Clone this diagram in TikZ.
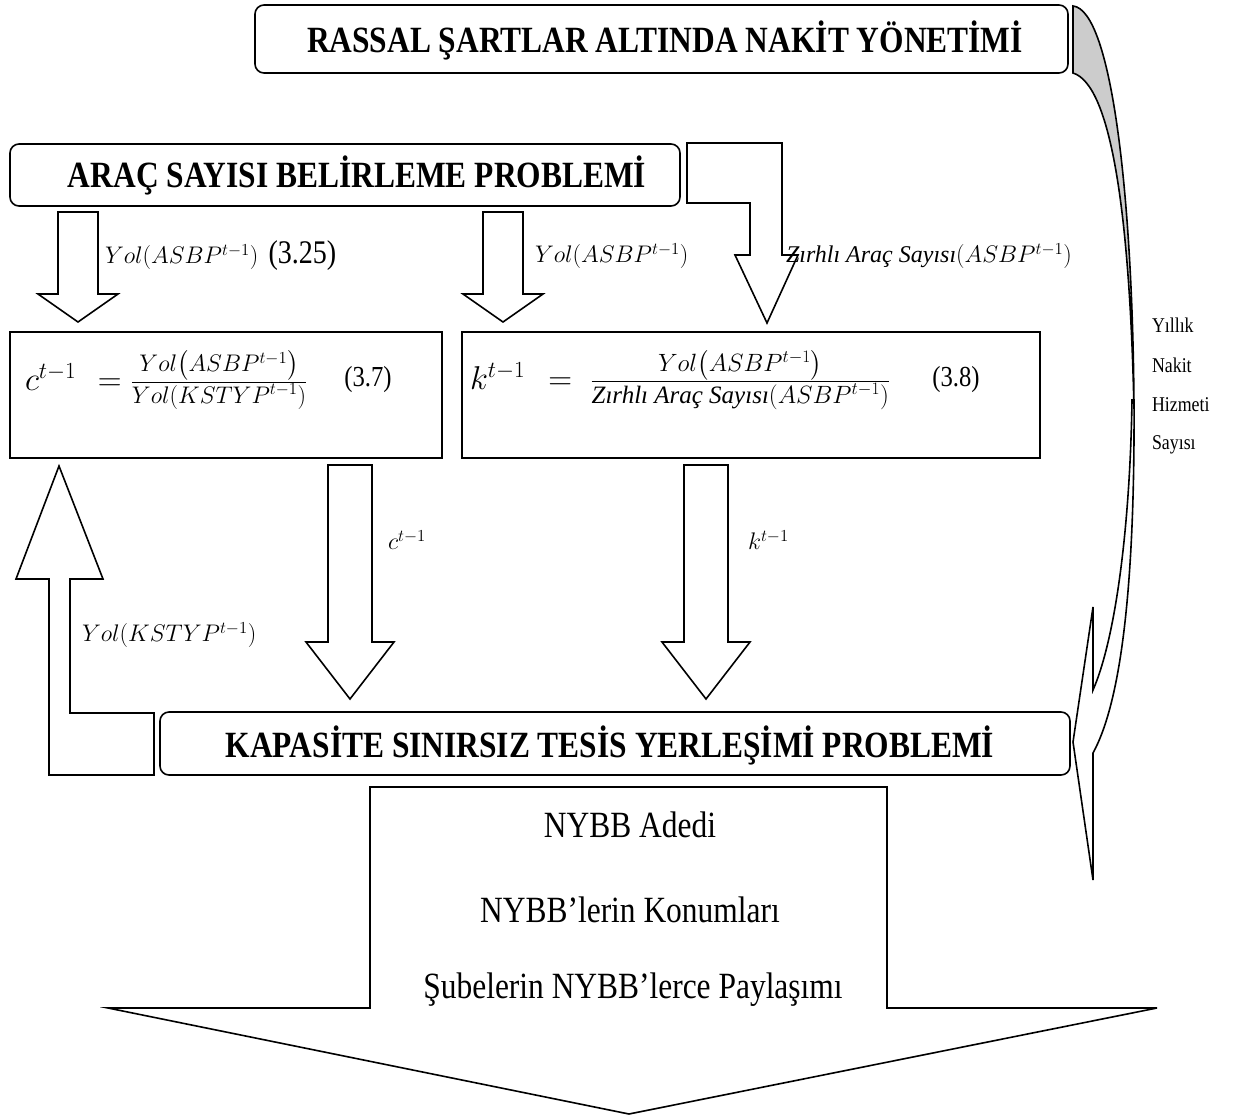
\RequirePackage{fix-cm}
\documentclass[tikz,border=0pt]{standalone}
\usepackage{amsmath}
\usepackage[no-math]{fontspec}
\setmainfont{Liberation Serif}[FakeStretch=0.85]
\newfontfamily\plainserif{Liberation Serif}

% sizes
\newcommand\titlesz{\fontsize{37}{40}\selectfont}
\newcommand\bodysz{\fontsize{37}{40}\selectfont}
\newcommand\sidesz{\fontsize{21}{24}\selectfont}
\newcommand\lblsz{\fontsize{24}{27}\selectfont}
\newcommand\fracsz{\fontsize{24}{27}\selectfont}
\newcommand\fracszb{\fontsize{25}{28}\selectfont}
\newcommand\eqsz{\fontsize{33}{36}\selectfont}
% Turkish words set in italic inside formulas
\newcommand\trit[1]{\text{\plainserif\itshape #1}}

% hollow down block arrow: centre x, top y, head y, tip y, half shaft, half head
\newcommand\blockdown[6]{%
  \draw[blockarrow] (#1-#5,#2) -- (#1+#5,#2) -- (#1+#5,#3) -- (#1+#6,#3)
    -- (#1,#4) -- (#1-#6,#3) -- (#1-#5,#3) -- cycle;}

\tikzset{
  every node/.style={inner sep=0pt, outer sep=0pt},
  titlebox/.style={draw, line width=1.6pt, rounded corners=9pt},
  formbox/.style={draw, line width=1.6pt},
  blockarrow/.style={draw, line width=1.6pt, fill=white, line join=miter},
  ribbon/.style={draw, line width=1.6pt, line join=miter},
  titletext/.style={font=\titlesz\bfseries},
}

\begin{document}
\begin{tikzpicture}[x=1pt,y=-1pt]
\useasboundingbox (0,0) rectangle (1248,1117);

% ---------- boxes ----------
\node[titlebox, minimum width=813, minimum height=68] (rassal) at (661.5,39) {};
\node[titletext] (rassaltxt) at (665,40) {RASSAL ŞARTLAR ALTINDA NAKİT YÖNETİMİ};

\node[titlebox, minimum width=670, minimum height=62] (arac) at (345,175) {};
\node[titletext] (aractxt) at (357,175) {ARAÇ SAYISI BELİRLEME PROBLEMİ};

\node[formbox, minimum width=432, minimum height=126] (cbox) at (226,395) {};
\node[formbox, minimum width=578, minimum height=126] (kbox) at (751,395) {};

\node[titlebox, minimum width=910, minimum height=63] (tesis) at (615,743.5) {};
\node[titletext] (tesistxt) at (610,745) {KAPASİTE SINIRSIZ TESİS YERLEŞİMİ PROBLEMİ};

% ---------- formulas ----------
\node[anchor=west, font=\eqsz] (ceq) at (25,380)
  {$c^{t-1}\ \,=\frac{\mbox{\fracsz$Yol\bigl(ASBP^{t-1}\bigr)$}}{\mbox{\fracsz$Yol(KSTYP^{t-1})$}}$};
\node[font=\fontsize{29}{32}\selectfont] (cnum) at (368,380) {(3.7)};

\node[anchor=west, font=\eqsz] (keq) at (470,380)
  {$k^{t-1}\ \ =\;\frac{\mbox{\fracszb$Yol\bigl(ASBP^{t-1}\bigr)$}}{\mbox{\fracszb$\trit{Zırhlı Araç Sayısı}(ASBP^{t-1})$}}$};
\node[font=\fontsize{29}{32}\selectfont] (knum) at (956,380) {(3.8)};

% ---------- down arrows under the first problem ----------
\blockdown{78}{212}{294}{322}{20}{40}
\blockdown{503}{212}{294}{322}{20}{40}
\node[anchor=west, font=\lblsz] (lbla) at (105,256)
  {$Yol(ASBP^{t-1})$\ \ {\fontsize{33}{36}\selectfont(3.25)}};
\node[anchor=west, font=\lblsz] (lblb) at (535,256) {$Yol(ASBP^{t-1})$};

% bent arrow from the first problem into the k formula
\draw[blockarrow] (687,143) -- (782,143) -- (782,255) -- (798,255) -- (767,323)
  -- (735,255) -- (750,255) -- (750,203) -- (687,203) -- cycle;
\node[anchor=west, font=\lblsz] (lblc) at (786,256)
  {$\trit{Zırhlı Araç Sayısı}(ASBP^{t-1})$};

% ---------- arrows into the location problem ----------
\blockdown{350}{465}{642}{699}{22}{44}
\blockdown{706}{465}{642}{699}{22}{44}
\node[anchor=west, font=\lblsz] (lblcc) at (388,540) {$c^{t-1}$};
\node[anchor=west, font=\lblsz] (lblkk) at (748,540) {$k^{t-1}$};

% feedback arrow back to the c formula
\draw[blockarrow] (59,466) -- (103,579) -- (70,579) -- (70,713) -- (154,713)
  -- (154,775) -- (49,775) -- (49,579) -- (16,579) -- cycle;
\node[anchor=west, font=\lblsz] (lblks) at (82,635) {$Yol(KSTYP^{t-1})$};

% ---------- curved ribbon arrow on the right ----------
\path[ribbon, fill=black!20] (1073,6) .. controls (1112,10) and (1133,200) .. (1134,410)
  .. controls (1130,220) and (1112,85) .. (1073,73) -- cycle;
\path[ribbon, fill=white] (1134,400) .. controls (1135,580) and (1122,700) .. (1093,753)
  -- (1093,880) -- (1073,742) -- (1093,607) -- (1093,690)
  .. controls (1115,640) and (1130,530) .. (1132,400) -- cycle;

\node[anchor=west, font=\sidesz] (s1) at (1152,325) {Yıllık};
\node[anchor=west, font=\sidesz] (s2) at (1152,365) {Nakit};
\node[anchor=west, font=\sidesz] (s3) at (1152,405) {Hizmeti};
\node[anchor=west, font=\sidesz] (s4) at (1152,445) {Sayısı};

% ---------- output arrow ----------
\draw[blockarrow] (370,787) -- (887,787) -- (887,1008) -- (1157,1008) -- (629,1114)
  -- (108,1008) -- (370,1008) -- cycle;
\node[font=\bodysz] (o1) at (630,825) {NYBB Adedi};
\node[font=\bodysz] (o2) at (630,910) {NYBB’lerin Konumları};
\node[font=\bodysz] (o3) at (633,990) {Şubelerin NYBB’lerce Paylaşımı};
\end{tikzpicture}
\end{document}
